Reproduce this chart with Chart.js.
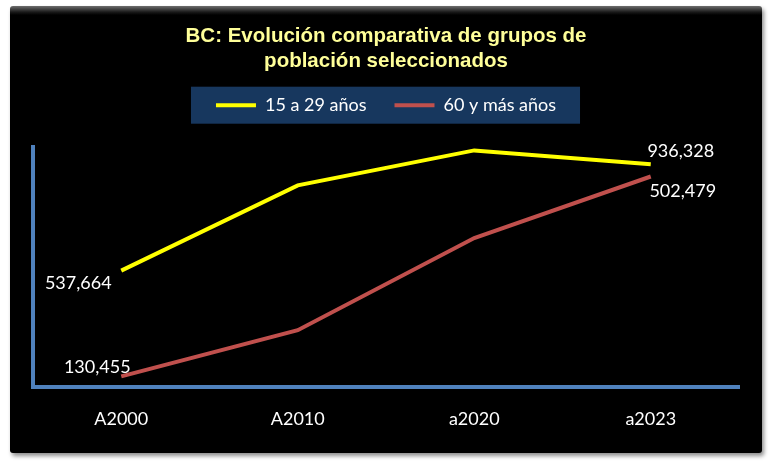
<!DOCTYPE html>
<html><head><meta charset="utf-8">
<script src="https://cdn.jsdelivr.net/npm/chart.js@4.4.1/dist/chart.umd.min.js"></script>
<style>
html,body{margin:0;padding:0;background:#fff;width:772px;height:467px;overflow:hidden;}
#panel{position:absolute;left:10px;top:6px;width:752px;height:447px;background:#000;border-radius:3px;
  box-shadow:2px 3px 4px rgba(0,0,0,0.45);
  background-image:linear-gradient(to bottom,#6e6e6e 0px,#1a1a1a 6px,#000 9px);}
canvas{position:absolute;left:0;top:0;}
</style></head>
<body><div id="panel"><canvas id="c" width="752" height="447"></canvas></div>
<script>
const categories = ['A2000', 'A2010', 'a2020', 'a2023'];
const youthSeries = [537664, 857000, 988000, 936328];   // 15 a 29 años
const elderSeries = [130455, 216500, 388000, 502479];   // 60 y más años
const seriesNames = ['15 a 29 años', '60 y más años'];
const titleLines = ['BC: Evolución comparativa de grupos de', 'población seleccionados'];
const labelledPoints = [[0, 0], [1, 0], [0, 3], [1, 3]]; // [dataset, index]

const LATO = "Lato, 'Open Sans', sans-serif";
const labelOffsets = [[-43, 13], [-24, -9], [30, -13], [32, 15]];

const legendBg = {
  id: 'legendBg',
  beforeDraw(chart) {
    const hb = chart.legend && chart.legend.legendHitBoxes;
    if (!hb || !hb.length) return;
    const left = Math.min(...hb.map(h => h.left));
    const right = Math.max(...hb.map(h => h.left + h.width));
    const cy = hb[0].top + hb[0].height / 2;
    const ctx = chart.ctx;
    ctx.save();
    ctx.fillStyle = '#17375E';
    ctx.fillRect(left - 25, cy - 18.5, right - left + 49, 37);
    ctx.restore();
  }
};

const pointLabels = {
  id: 'pointLabels',
  afterDatasetsDraw(chart) {
    const ctx = chart.ctx;
    ctx.save();
    ctx.font = '18px ' + LATO;
    ctx.fillStyle = '#FFFFFF';
    ctx.textAlign = 'center';
    ctx.textBaseline = 'middle';
    labelledPoints.forEach(([ds, i], k) => {
      const el = chart.getDatasetMeta(ds).data[i];
      const v = chart.data.datasets[ds].data[i];
      ctx.fillText(v.toLocaleString('en-US'), el.x + labelOffsets[k][0], el.y + labelOffsets[k][1]);
    });
    ctx.restore();
  }
};

new Chart(document.getElementById('c'), {
  type: 'line',
  data: {
    labels: categories,
    datasets: [
      {label: seriesNames[0], data: youthSeries, borderColor: '#FFFF00', backgroundColor: '#FFFF00',
       borderWidth: 4, pointRadius: 0, tension: 0, yAxisID: 'y'},
      {label: seriesNames[1], data: elderSeries, borderColor: '#C0504D', backgroundColor: '#C0504D',
       borderWidth: 4, pointRadius: 0, tension: 0, yAxisID: 'y1'}
    ]
  },
  options: {
    responsive: false,
    animation: false,
    devicePixelRatio: 1,
    layout: {padding: {left: 23, right: 23, top: 0, bottom: 10}},
    plugins: {
      title: {display: true, text: titleLines, color: '#FFFF99',
        font: {family: "'Liberation Sans', Arial, sans-serif", size: 20.5, weight: 'bold', lineHeight: 1.2},
        padding: {top: 18, bottom: -5}},
      subtitle: {display: true, text: ' ', weight: 500, font: {size: 1, lineHeight: 1}, padding: {top: 22, bottom: 0}},
      legend: {
        position: 'top',
        labels: {
          color: '#FFFFFF', font: {family: LATO, size: 18}, boxWidth: 40, boxHeight: 4, padding: 28,
          generateLabels: (chart) => Chart.defaults.plugins.legend.labels.generateLabels(chart)
            .map(l => Object.assign(l, {lineWidth: 0}))
        }
      },
      tooltip: {enabled: false}
    },
    scales: {
      x: {offset: true, grid: {display: false}, border: {color: '#4F81BD', width: 4},
          ticks: {color: '#FFFFFF', font: {family: LATO, size: 18}, padding: 13}},
      y: {position: 'left', min: 100000, max: 1000000, grid: {display: false},
          border: {color: '#4F81BD', width: 4}, ticks: {display: false},
          afterFit: (scale) => { scale.width = 0; }},
      y1: {position: 'right', display: false, min: 110000, max: 557000}
    }
  },
  plugins: [legendBg, pointLabels]
});
</script></body></html>
